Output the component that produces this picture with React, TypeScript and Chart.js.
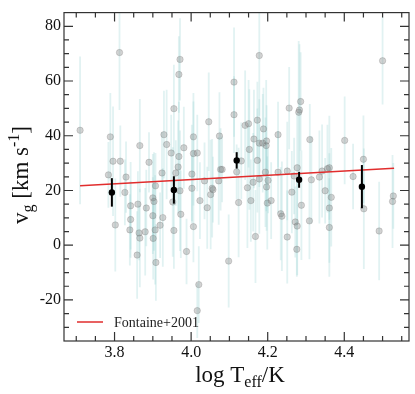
import React, { useEffect, useRef } from "react";
import { Chart, registerables } from "chart.js";
Chart.register(...registerables);

// individual stars: log Teff, v_g, uncertainty
const starLogT = [
  3.710, 3.813, 3.789, 3.796, 3.815, 3.866, 3.890, 3.784, 3.830, 3.827,
  3.802, 3.842, 3.861, 3.842, 3.840, 3.866, 3.864, 3.880, 3.859, 3.900,
  3.900, 3.901, 3.903, 3.906, 3.908, 3.919, 3.926, 3.952, 3.955, 3.971,
  3.973, 4.002, 4.002, 4.023, 4.006, 3.988, 4.020, 4.016, 4.042, 4.051,
  4.055, 4.057, 4.072, 4.098, 4.124, 3.924, 3.929, 3.936, 3.948, 3.955,
  3.960, 3.968, 3.971, 3.968, 3.966, 3.981, 4.006, 4.006, 4.016, 4.046,
  4.074, 4.077, 4.081, 4.112, 4.112, 4.119, 4.131, 4.141, 4.150, 4.152,
  4.164, 4.173, 4.178, 4.173, 4.178, 4.187, 4.189, 4.196, 4.197, 4.194,
  4.227, 4.227, 4.251, 4.256, 4.281, 4.283, 4.286, 4.277, 4.310, 4.342,
  4.269, 4.147, 4.162, 4.178, 4.197, 4.201, 4.156, 4.199, 4.209, 4.168,
  4.234, 4.237, 4.251, 4.263, 4.272, 4.277, 4.276, 4.288, 4.309, 4.314,
  4.335, 4.350, 4.356, 4.361, 4.401, 4.423, 4.450, 4.500, 4.366, 4.361,
  4.361, 4.451, 4.491, 4.526, 4.528, 3.883, 4.035, 3.907,
];
const starVg = [
  42.0, 70.4, 39.6, 30.7, 30.7, 36.4, 30.3, 25.7, 24.9, 19.3,
  7.4, 14.4, 15.0, 9.4, 5.6, 2.6, 4.5, 4.9, -3.6, 17.3,
  10.8, 2.5, 16.0, 5.6, -6.3, 7.3, 10.1, 15.8, 5.4, 19.9,
  11.3, 26.0, 20.8, 16.3, 6.8, -2.3, -14.4, -23.9, 13.7, 18.5,
  20.8, 20.3, 23.5, -5.8, 15.6, 26.4, 40.4, 36.8, 33.7, 49.9,
  26.4, 62.4, 67.9, 32.4, 28.6, 35.6, 39.6, 33.5, 33.7, 45.1,
  39.9, 27.7, 27.7, 59.6, 47.7, 26.8, 30.8, 43.8, 44.4, 35.0,
  38.8, 45.7, 69.3, 31.0, 37.3, 37.3, 42.5, 36.4, 38.1, 26.7,
  40.4, 26.7, 27.1, 50.1, 48.6, 49.4, 52.5, 28.3, 38.6, 27.1,
  25.3, 21.0, 23.0, 24.2, 21.3, 23.7, 16.3, 15.4, 16.3, 3.2,
  11.5, 10.6, 3.0, 19.4, 8.5, 7.0, -1.5, 14.6, 8.9, 23.9,
  24.9, 19.9, 28.0, 28.3, 38.3, 25.1, 31.4, 67.4, 17.5, 13.6,
  6.5, 13.3, 5.2, 16.0, 18.0, 13.6, 23.5, 21.7,
];
const starErr = [
  27, 21, 16, 20, 13, 17, 11, 12, 13, 12,
  17, 16, 12, 14, 13, 18, 10, 16, 16, 16,
  14, 15, 18, 20, 14, 12, 18, 20, 14, 22,
  16, 18, 12, 14, 13, 12, 14, 10, 15, 20,
  18, 12, 16, 17, 20, 15, 16, 20, 14, 16,
  12, 14, 15, 20, 17, 15, 16, 19, 14, 18,
  16, 15, 12, 20, 14, 10, 14, 20, 16, 22,
  18, 14, 22, 19, 16, 18, 15, 24, 13, 20,
  12, 15, 18, 15, 26, 24, 18, 20, 13, 17,
  14, 22, 18, 20, 16, 12, 15, 17, 14, 17,
  17, 20, 17, 15, 13, 18, 10, 20, 14, 16,
  17, 12, 16, 19, 16, 12, 16, 16, 18, 20,
  18, 22, 18, 17, 12, 14, 14, 12,
];

// binned means
const binLogT = [3.793, 3.955, 4.119, 4.282, 4.446];
const binVg = [19.3, 20.2, 31.0, 23.9, 21.4];
const binErr = [5.2, 5.0, 3.0, 2.9, 7.9];

// Fontaine+2001 relation
const fitLogT = [3.71, 4.53];
const fitVg = [21.7, 28.1];

const xTicks = [3.8, 4.0, 4.2, 4.4];
const yTicks = [-20, 0, 20, 40, 60, 80];
const xMinor = [3.70, 3.75, 3.85, 3.90, 3.95, 4.05, 4.10, 4.15, 4.25, 4.30, 4.35, 4.45, 4.50, 4.55];
const yMinor = [-30, -25, -15, -10, -5, 5, 10, 15, 25, 30, 35, 45, 50, 55, 65, 70, 75];

const SERIF = "'Liberation Serif', 'DejaVu Serif', serif";

const decor = {
  id: "decor",
  beforeDatasetsDraw(chart: any) {
    const { ctx, chartArea: a, scales } = chart;
    const x = scales.x, y = scales.y;
    ctx.save();
    ctx.beginPath();
    ctx.rect(a.left, a.top, a.right - a.left, a.bottom - a.top);
    ctx.clip();
    ctx.strokeStyle = "rgba(140,205,205,0.26)";
    ctx.lineWidth = 1.8;
    for (let i = 0; i < starLogT.length; i++) {
      const px = x.getPixelForValue(starLogT[i]);
      ctx.beginPath();
      ctx.moveTo(px, y.getPixelForValue(starVg[i] - starErr[i]));
      ctx.lineTo(px, y.getPixelForValue(starVg[i] + starErr[i]));
      ctx.stroke();
    }
    ctx.restore();
  },
  afterDatasetsDraw(chart: any) {
    const { ctx, scales } = chart;
    const x = scales.x, y = scales.y;
    ctx.save();
    ctx.strokeStyle = "#000";
    ctx.lineWidth = 2;
    for (let i = 0; i < binLogT.length; i++) {
      const px = x.getPixelForValue(binLogT[i]);
      ctx.beginPath();
      ctx.moveTo(px, y.getPixelForValue(binVg[i] - binErr[i]));
      ctx.lineTo(px, y.getPixelForValue(binVg[i] + binErr[i]));
      ctx.stroke();
    }
    ctx.restore();
  },
  afterDraw(chart: any) {
    const { ctx, chartArea: a, scales } = chart;
    const x = scales.x, y = scales.y;
    ctx.save();
    ctx.strokeStyle = "#333";
    ctx.lineWidth = 1.2;
    ctx.strokeRect(a.left, a.top, a.right - a.left, a.bottom - a.top);
    const tick = (v: number, len: number, axis: "x" | "y") => {
      ctx.beginPath();
      if (axis === "x") {
        const p = x.getPixelForValue(v);
        ctx.moveTo(p, a.bottom); ctx.lineTo(p, a.bottom - len);
        ctx.moveTo(p, a.top); ctx.lineTo(p, a.top + len);
      } else {
        const p = y.getPixelForValue(v);
        ctx.moveTo(a.left, p); ctx.lineTo(a.left + len, p);
        ctx.moveTo(a.right, p); ctx.lineTo(a.right - len, p);
      }
      ctx.stroke();
    };
    xTicks.forEach((v) => tick(v, 9, "x"));
    xMinor.forEach((v) => tick(v, 5, "x"));
    yTicks.forEach((v) => tick(v, 9, "y"));
    yMinor.forEach((v) => tick(v, 5, "y"));

    // x title: log T_eff / K
    ctx.fillStyle = "#111";
    ctx.textBaseline = "alphabetic";
    ctx.textAlign = "left";
    const big = `23px ${SERIF}`, small = `16px ${SERIF}`;
    const parts: [string, string, number][] = [
      ["log T", big, 0], ["eff", small, 5], ["/K", big, 0],
    ];
    let tot = 0;
    parts.forEach(([t, f]) => { ctx.font = f; tot += ctx.measureText(t).width; });
    let cx = 240 - tot / 2;
    parts.forEach(([t, f, dy]) => {
      ctx.font = f; ctx.fillText(t, cx, 382 + dy); cx += ctx.measureText(t).width;
    });

    // y title: v_g [km s^-1]
    const yparts: [string, string, number][] = [
      ["v", big, 0], ["g", small, 5], [" [km s", big, 0], ["-1", small, -9], ["]", big, 0],
    ];
    tot = 0;
    yparts.forEach(([t, f]) => { ctx.font = f; tot += ctx.measureText(t).width; });
    ctx.save();
    ctx.translate(28, 175);
    ctx.rotate(-Math.PI / 2);
    cx = -tot / 2;
    yparts.forEach(([t, f, dy]) => {
      ctx.font = f; ctx.fillText(t, cx, dy); cx += ctx.measureText(t).width;
    });
    ctx.restore();

    // legend
    ctx.strokeStyle = "rgb(225,45,45)";
    ctx.lineWidth = 1.5;
    ctx.beginPath(); ctx.moveTo(77, 322); ctx.lineTo(103, 322); ctx.stroke();
    ctx.font = `14px ${SERIF}`;
    ctx.fillStyle = "#222";
    ctx.fillText("Fontaine+2001", 114, 327);
    ctx.restore();
  },
};

export default function App() {
  const ref = useRef<HTMLCanvasElement>(null);
  useEffect(() => {
    const chart = new Chart(ref.current as HTMLCanvasElement, {
      type: "scatter",
      data: {
        datasets: [
          {
            label: "bins",
            data: binLogT.map((v, i) => ({ x: v, y: binVg[i] })),
            backgroundColor: "#000",
            borderColor: "#000",
            pointRadius: 3.2,
            borderWidth: 0,
          },
          {
            label: "Fontaine+2001",
            data: fitLogT.map((v, i) => ({ x: v, y: fitVg[i] })),
            showLine: true,
            borderColor: "rgb(225,45,45)",
            borderWidth: 1.5,
            pointRadius: 0,
            fill: false,
          },
          {
            label: "stars",
            data: starLogT.map((v, i) => ({ x: v, y: starVg[i] })),
            backgroundColor: "rgba(125,125,125,0.34)",
            borderColor: "rgba(100,100,100,0.3)",
            borderWidth: 0.8,
            pointRadius: 3.2,
          },
        ],
      },
      options: {
        responsive: false,
        animation: false,
        devicePixelRatio: 1,
        layout: { padding: { top: 6, right: 6, left: 0, bottom: 0 } },
        plugins: { legend: { display: false }, tooltip: { enabled: false } },
        scales: {
          x: {
            type: "linear",
            min: 3.668,
            max: 4.569,
            grid: { display: false, drawTicks: false },
            border: { display: false },
            afterBuildTicks: (s: any) => { s.ticks = xTicks.map((v) => ({ value: v })); },
            afterFit: (s: any) => { s.height = 53; },
            ticks: {
              padding: 2,
              color: "#111",
              font: { family: SERIF, size: 16 },
              callback: (v: any) => Number(v).toFixed(1),
              maxRotation: 0,
            },
          },
          y: {
            type: "linear",
            min: -35,
            max: 85,
            grid: { display: false, drawTicks: false },
            border: { display: false },
            afterBuildTicks: (s: any) => { s.ticks = yTicks.map((v) => ({ value: v })); },
            afterFit: (s: any) => { s.width = 64; },
            ticks: {
              padding: 3,
              color: "#111",
              font: { family: SERIF, size: 16 },
              callback: (v: any) => String(v),
            },
          },
        },
      },
      plugins: [decor],
    } as any);
    return () => chart.destroy();
  }, []);
  return (
    <div style={{ position: "absolute", left: 0, top: 0, width: 415, height: 394, background: "#fff" }}>
      <canvas ref={ref} width={415} height={394} style={{ display: "block", width: 415, height: 394 }} />
    </div>
  );
}
